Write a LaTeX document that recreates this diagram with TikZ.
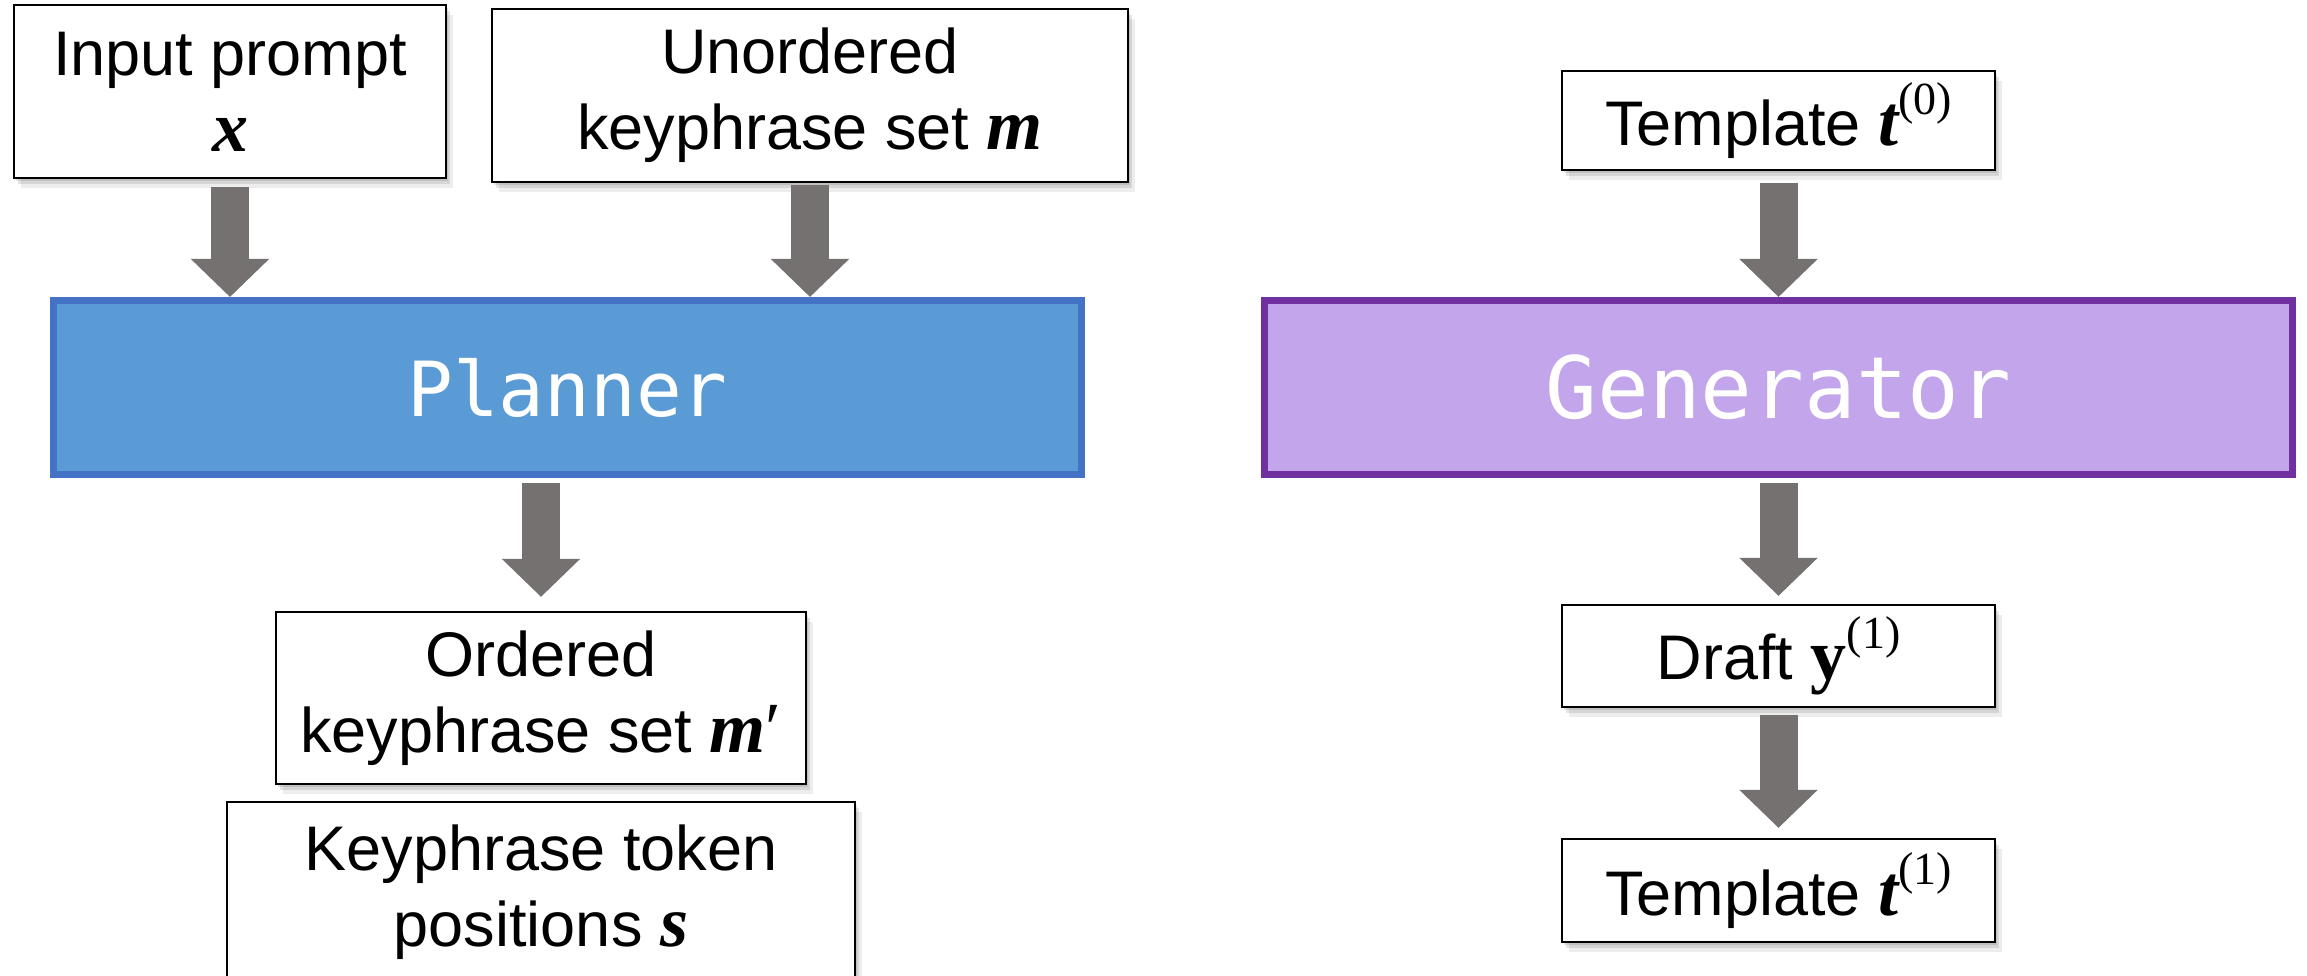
\documentclass[tikz,border=0pt]{standalone}
\usepackage{fontspec}
\setmainfont{Liberation Sans}
\setmonofont{DejaVu Sans Mono}
\newfontfamily\symfont{Liberation Serif}
\usetikzlibrary{arrows.meta,shadows}

% bold italic symbol, upright bold symbol, and a raised index
\newcommand{\sym}[1]{{\symfont\fontsize{72}{76}\selectfont\bfseries\itshape #1}}
\newcommand{\usym}[1]{{\symfont\fontsize{72}{76}\selectfont\bfseries #1}}
\newcommand{\idx}[1]{\raisebox{0.5em}{\symfont\fontsize{46}{46}\selectfont (#1)}}

\definecolor{plannerfill}{RGB}{91,155,213}
\definecolor{plannerline}{RGB}{68,114,196}
\definecolor{genfill}{RGB}{195,165,235}
\definecolor{genline}{RGB}{112,48,160}
\definecolor{arrowgray}{RGB}{118,113,113}

\tikzset{
  softshadow/.style={
    drop shadow={shadow xshift=2pt,shadow yshift=-3pt,fill=black,opacity=0.10},
    drop shadow={shadow xshift=4pt,shadow yshift=-6pt,fill=black,opacity=0.10},
    drop shadow={shadow xshift=7pt,shadow yshift=-10pt,fill=black,opacity=0.07}},
  textbox/.style={rectangle,draw=black,line width=2.2pt,fill=white,softshadow,
    align=center,inner sep=0pt,
    font=\fontsize{63}{76}\selectfont},
  modelbox/.style={rectangle,line width=7pt,inner sep=0pt,text=white},
  flow/.style={line width=38pt,draw=arrowgray,
    -{Triangle[length=38pt,width=76pt]}},
}

\begin{document}
\begin{tikzpicture}[x=1pt,y=-1pt]
\useasboundingbox (0,0) rectangle (2307,976);
\clip (0,0) rectangle (2307,976);

% ---- planner branch ----
\node[textbox,minimum width=432pt,minimum height=173pt] (inp) at (230,91.5)
  {Input prompt\\\sym{x}};
\node[textbox,minimum width=636pt,minimum height=173pt] (unord) at (810,95.5)
  {Unordered\\keyphrase set \sym{m}};
\node[modelbox,fill=plannerfill,draw=plannerline,
  minimum width=1028pt,minimum height=174pt,
  font=\fontsize{76}{90}\ttfamily] (pl) at (567.5,387.5) {Planner};
\node[textbox,minimum width=530pt,minimum height=172pt] (ord) at (541,698)
  {Ordered\\keyphrase set \sym{m}{\symfont\fontsize{72}{76}\selectfont\char"2032}};
\node[textbox,minimum width=628pt,minimum height=180pt] (key) at (541,892)
  {Keyphrase token\\positions \sym{s}};

\draw[flow] ([yshift=-8pt]inp.south) -- (inp.south |- pl.north);
\draw[flow] ([yshift=-2pt]unord.south) -- (unord.south |- pl.north);
\draw[flow] (ord.north |- pl.south) ++(0,5) -- ([yshift=14pt]ord.north);

% ---- generator branch ----
\node[textbox,minimum width=433pt,minimum height=99pt] (t0) at (1778.5,120.5)
  {Template \sym{t}\idx{0}};
\node[modelbox,fill=genfill,draw=genline,
  minimum width=1028pt,minimum height=174pt,
  font=\fontsize{86}{100}\ttfamily] (gen) at (1778.5,387.5) {Generator};
\node[textbox,minimum width=433pt,minimum height=102pt] (draft) at (1778.5,656)
  {Draft \usym{y}\idx{1}};
\node[textbox,minimum width=433pt,minimum height=103pt] (t1) at (1778.5,890.5)
  {Template \sym{t}\idx{1}};

\draw[flow] ([yshift=-12pt]t0.south) -- (gen.north);
\draw[flow] ([yshift=-5pt]gen.south) -- ([yshift=8pt]draft.north);
\draw[flow] ([yshift=-7pt]draft.south) -- ([yshift=10pt]t1.north);
\end{tikzpicture}
\end{document}
